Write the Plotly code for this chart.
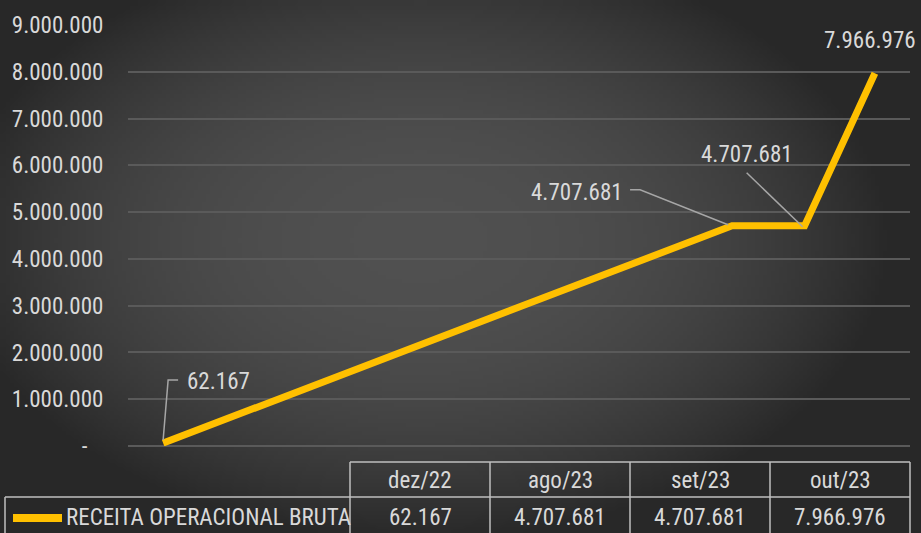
import base64, struct, zlib, math
import plotly.graph_objects as go

# ---------------- data ----------------
categories = ["dez/22", "ago/23", "set/23", "out/23"]
category_dates = ["2022-12-01", "2023-08-01", "2023-09-01", "2023-10-01"]
series_name = "RECEITA OPERACIONAL BRUTA"
receita = [62167, 4707681, 4707681, 7966976]
y_tick_values = [0, 1000000, 2000000, 3000000, 4000000, 5000000,
                 6000000, 7000000, 8000000, 9000000]
y_tick_labels = ["-\u00a0\u00a0\u00a0", "1.000.000", "2.000.000", "3.000.000", "4.000.000",
                 "5.000.000", "6.000.000", "7.000.000", "8.000.000", "9.000.000"]


def fmt(v):
    return f"{v:,}".replace(",", ".")


# ---------------- style ----------------
W, H = 921, 533
FONT = "Liberation Sans Narrow, Roboto Condensed, Arial Narrow, sans-serif"
TXT = "#d9d9d9"
LINE = "#FFC000"
LEADER = "#a6a6a6"
FS = 23


def px_x(p):
    return p / W


def px_y(p):
    return 1 - p / H


# background radial gradient as PNG data URI
def gradient_png(w, h):
    raw = bytearray()
    for j in range(h):
        raw.append(0)
        Y = (j + 0.5) * H / h
        for i in range(w):
            X = (i + 0.5) * W / w
            dx = (X - 420) / 470
            dy = (Y - 240) / 300
            r = min(1.0, math.sqrt(dx * dx + dy * dy))
            t = r ** 2.3
            raw.append(int(round(80 - 40 * t)))

    def chunk(tag, data):
        return (struct.pack(">I", len(data)) + tag + data +
                struct.pack(">I", zlib.crc32(tag + data) & 0xffffffff))

    png = (b"\x89PNG\r\n\x1a\n" +
           chunk(b"IHDR", struct.pack(">IIBBBBB", w, h, 8, 0, 0, 0, 0)) +
           chunk(b"IDAT", zlib.compress(bytes(raw), 9)) +
           chunk(b"IEND", b""))
    return "data:image/png;base64," + base64.b64encode(png).decode()


fig = go.Figure()
fig.add_trace(go.Scatter(
    x=category_dates, y=receita, mode="lines", name=series_name,
    line=dict(color=LINE, width=7), hoverinfo="x+y", showlegend=False,
))

# data labels (offsets in px relative to points)
label_offsets = [(55, 62), (-155, 33), (-58, 71), (-5, 33)]
for d, v, (ox, oy) in zip(category_dates, receita, label_offsets):
    fig.add_annotation(x=d, y=v, xref="x", yref="y", text=fmt(v), showarrow=False,
                       xanchor="center", yanchor="middle",
                       xshift=ox, yshift=oy, font=dict(family=FONT, size=FS, color=TXT))

# leader lines (pixel paths anchored at data points)
leader_paths = {0: "M0,3 L5,63 L15,63", 1: "M-102,36 L-92,36 L-4,1", 2: "M-58,53 L-2,-1"}
shapes = []
for idx, path in leader_paths.items():
    shapes.append(dict(type="path", xref="x", yref="y", xsizemode="pixel", ysizemode="pixel",
                       xanchor=category_dates[idx], yanchor=receita[idx], path=path,
                       line=dict(color=LEADER, width=1.5), layer="above"))

# data table
tbl_col = [350, 490, 630, 770, 910]
tbl_rows = [462, 497, 540]
tc = "#bfbfbf"
tw = 1.5
for x in tbl_col:
    shapes.append(dict(type="line", xref="paper", yref="paper", x0=px_x(x), x1=px_x(x),
                       y0=px_y(tbl_rows[0]), y1=px_y(tbl_rows[2]), line=dict(color=tc, width=tw)))
shapes.append(dict(type="line", xref="paper", yref="paper", x0=px_x(tbl_col[0]), x1=px_x(tbl_col[-1]),
                   y0=px_y(tbl_rows[0]), y1=px_y(tbl_rows[0]), line=dict(color=tc, width=tw)))
shapes.append(dict(type="line", xref="paper", yref="paper", x0=px_x(5), x1=px_x(tbl_col[-1]),
                   y0=px_y(tbl_rows[1]), y1=px_y(tbl_rows[1]), line=dict(color=tc, width=tw)))
shapes.append(dict(type="line", xref="paper", yref="paper", x0=px_x(5), x1=px_x(5),
                   y0=px_y(tbl_rows[1]), y1=px_y(tbl_rows[2]), line=dict(color=tc, width=tw)))
# legend key
shapes.append(dict(type="line", xref="paper", yref="paper", x0=px_x(13), x1=px_x(62),
                   y0=px_y(518), y1=px_y(518), line=dict(color=LINE, width=8)))

for k, (cat, v) in enumerate(zip(categories, receita)):
    cx = (tbl_col[k] + tbl_col[k + 1]) / 2
    fig.add_annotation(x=px_x(cx), y=px_y(480), xref="paper", yref="paper", text=cat,
                       xanchor="center", yanchor="middle",
                       showarrow=False, font=dict(family=FONT, size=FS, color=TXT))
    fig.add_annotation(x=px_x(cx), y=px_y(517), xref="paper", yref="paper", text=fmt(v),
                       xanchor="center", yanchor="middle",
                       showarrow=False, font=dict(family=FONT, size=FS, color=TXT))
fig.add_annotation(x=px_x(64), y=px_y(517), xref="paper", yref="paper", text=series_name,
                   xanchor="left", yanchor="middle", showarrow=False,
                   font=dict(family=FONT, size=FS, color=TXT))

fig.update_layout(
    width=W, height=H,
    margin=dict(l=0, r=0, t=0, b=0, pad=0, autoexpand=False),
    paper_bgcolor="#2a2a2a", plot_bgcolor="rgba(0,0,0,0)",
    font=dict(family=FONT, size=FS, color=TXT),
    shapes=shapes,
    images=[dict(source=gradient_png(230, 133), xref="paper", yref="paper", x=0, y=1,
                 sizex=1, sizey=1, sizing="stretch", xanchor="left", yanchor="top",
                 layer="below")],
    xaxis=dict(type="date", range=["2022-11-16", "2023-10-16"], domain=[px_x(128), px_x(910)],
               showgrid=False, zeroline=False, showticklabels=False, showline=False, ticks="",
               automargin=False),
    yaxis=dict(range=[0, 9000000], domain=[px_y(446), px_y(25)],
               tickvals=y_tick_values, ticktext=y_tick_labels,
               showgrid=True, gridcolor="#5a5a5a", gridwidth=1.5,
               zeroline=True, zerolinecolor="#5a5a5a", zerolinewidth=1.5,
               ticks="outside", ticklen=19, tickcolor="rgba(0,0,0,0)",
               tickfont=dict(family=FONT, size=FS, color=TXT), showline=False,
               automargin=False),
    showlegend=False,
)

fig.write_html("out.html", config={"responsive": False, "displayModeBar": False},
               post_script="document.body.style.margin='0';document.body.style.padding='0';"
                           "document.body.style.overflow='hidden';"
                           "document.documentElement.style.overflow='hidden';")
